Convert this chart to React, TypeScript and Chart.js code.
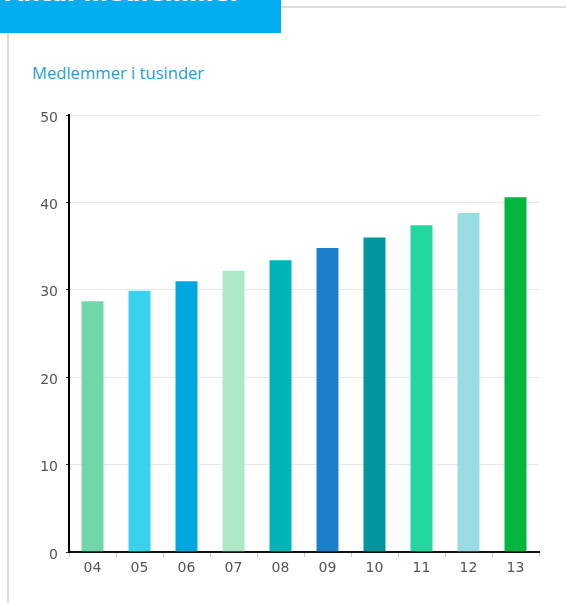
import React, { useEffect, useRef } from "react";
import { Chart, registerables } from "chart.js";

Chart.register(...registerables);

const categories = ["04", "05", "06", "07", "08", "09", "10", "11", "12", "13"];
const members = [28.8, 30.0, 31.1, 32.3, 33.5, 34.9, 36.1, 37.5, 38.9, 40.7];
const barColors = [
  "#70D8A8",
  "#38D1EE",
  "#00A6DE",
  "#ADE8C8",
  "#00B4B8",
  "#1B7FCC",
  "#00969C",
  "#22D8A0",
  "#9ADCE3",
  "#00B63C",
];
const bannerTitle = "Antal medlemmer";
const subtitle = "Medlemmer i tusinder";

export default function App() {
  const canvasRef = useRef<HTMLCanvasElement | null>(null);

  useEffect(() => {
    document.body.style.margin = "0";
    const ctx = canvasRef.current;
    if (!ctx) return;
    const chart = new Chart(ctx, {
      type: "bar",
      data: {
        labels: categories,
        datasets: [
          {
            data: members,
            backgroundColor: barColors,
            borderColor: "rgba(255,255,255,0.25)",
            borderWidth: 1,
            categoryPercentage: 1,
            barPercentage: 0.51,
          },
        ],
      },
      options: {
        responsive: false,
        animation: false,
        layout: { padding: { top: 115, right: 27, left: 0, bottom: 0 } },
        plugins: {
          legend: { display: false },
          tooltip: { enabled: false },
          title: { display: false },
        },
        scales: {
          x: {
            grid: {
              drawOnChartArea: false,
              drawTicks: true,
              tickLength: 5,
              tickColor: "#b8c8d8",
              offset: true,
            },
            border: { color: "#111", width: 2 },
            ticks: {
              color: "#555",
              font: { family: "DejaVu Sans", size: 14 },
              padding: 3,
            },
            afterFit: (scale: any) => {
              scale.height = 51;
            },
          },
          y: {
            min: 0,
            max: 50,
            grid: {
              color: "#e8e8e8",
              lineWidth: 1,
              tickColor: "#333",
              tickLength: 3,
            },
            border: { color: "#000", width: 2 },
            ticks: {
              stepSize: 10,
              color: "#555",
              font: { family: "DejaVu Sans", size: 14 },
              padding: 8,
              labelOffset: 3,
            },
            afterFit: (scale: any) => {
              scale.width = 69;
            },
          },
        },
      },
    });
    return () => chart.destroy();
  }, []);

  return (
    <div
      style={{
        position: "fixed",
        left: 0,
        top: 0,
        width: 566,
        height: 603,
        background: "#fff",
        overflow: "hidden",
      }}
    >
      <div
        style={{
          position: "absolute",
          left: 7,
          top: 33,
          width: 2,
          height: 570,
          background: "#dcdcdc",
        }}
      />
      <div
        style={{
          position: "absolute",
          left: 281,
          top: 6,
          width: 285,
          height: 2,
          background: "#dcdcdc",
        }}
      />
      <div
        style={{
          position: "absolute",
          left: 0,
          top: 0,
          width: 281,
          height: 33,
          background: "#00AEEF",
          overflow: "hidden",
        }}
      >
        <div
          style={{
            position: "absolute",
            left: 5,
            top: -21,
            color: "#fff",
            fontFamily: "DejaVu Sans",
            fontWeight: "bold",
            fontSize: 23.5,
            lineHeight: "28px",
            whiteSpace: "nowrap",
          }}
        >
          {bannerTitle}
        </div>
      </div>
      <div
        style={{
          position: "absolute",
          left: 32,
          top: 63,
          color: "#1BA0DC",
          fontFamily: "Open Sans",
          fontSize: 16.6,
          lineHeight: "20px",
          whiteSpace: "nowrap",
        }}
      >
        {subtitle}
      </div>
      <canvas
        ref={canvasRef}
        width={566}
        height={603}
        style={{ position: "absolute", left: 0, top: 0, width: 566, height: 603 }}
      />
    </div>
  );
}
